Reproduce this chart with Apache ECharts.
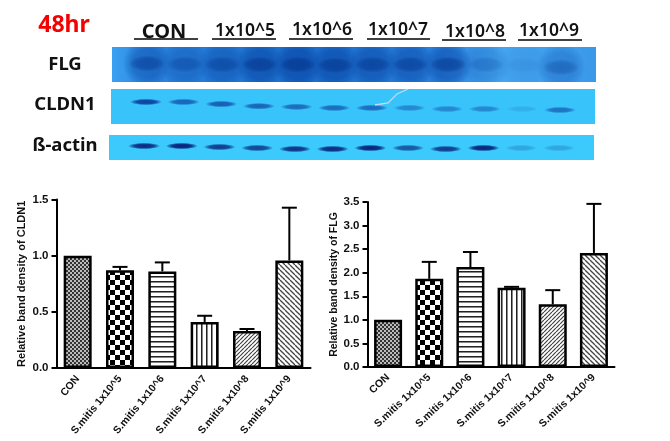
<!DOCTYPE html>
<html><head><meta charset="utf-8">
<style>html,body{margin:0;padding:0;background:#fff;overflow:hidden}#c{width:670px;height:441px;filter:blur(0.4px)}</style>
<script src="https://cdn.jsdelivr.net/npm/echarts@6/dist/echarts.min.js"></script>
</head><body><div id="c"></div>
<script>
// ---------- data ----------
const categories = ['CON','S.mitis 1x10^5','S.mitis 1x10^6','S.mitis 1x10^7','S.mitis 1x10^8','S.mitis 1x10^9'];
const cldn1Mean = [1.0,0.87,0.86,0.41,0.33,0.957];
const cldn1Err  = [0,0.03,0.08,0.055,0.017,0.47];
const flgMean   = [1.0,1.87,2.12,1.68,1.33,2.42];
const flgErr    = [0,0.36,0.32,0.02,0.30,1.04];
const doseGroups = ['CON','1x10^5','1x10^6','1x10^7','1x10^8','1x10^9'];
const blotNames = ['FLG','CLDN1','ß-actin'];
const lanes = [1,2,3,4,5,6,7,8,9,10,11,12];
const flgDensity   = [.65,.45,.6,.85,.95,.85,.75,.7,.75,.28,.1,.4];
const flgBandPos   = [47,49,50,50,50,52,50,50,50,50,52,58];
const cldn1Density = [.95,.7,.75,.7,.65,.65,.65,.45,.45,.45,.15,.6];
const cldn1BandPos = [37,37,43,49,51,54,54,54,57,57,57,60];
const actinDensity = [.95,1,.85,.8,.9,.95,1,.7,.85,1,.22,.22];
const actinBandPos = [44,44,48,52,56,56,52,52,56,52,52,52];

// ---------- layout ----------
const headerX = [164,245,322,398,475,549];
const headerY = [32,31,30,30,32,31];
const ruleX = [[134,198],[212,276],[289,353],[367,430],[442,506],[518,582]];
const ruleY = [39,39,39,39,40,40];
const blotLabelX = 65, blotLabelY = [65,105,146];

function pat(size, draw){
  const c=document.createElement('canvas');c.width=c.height=size;
  const g=c.getContext('2d');g.fillStyle='#fff';g.fillRect(0,0,size,size);g.fillStyle='#000';g.strokeStyle='#000';
  draw(g,size);return {image:c,repeat:'repeat'};
}
const patterns=[
  pat(4,(g)=>{g.fillStyle='#333';g.fillRect(0,0,2,2);g.fillRect(2,2,2,2);g.fillStyle='#bbb';g.fillRect(2,0,2,2);g.fillRect(0,2,2,2);}),
  pat(10,(g)=>{g.fillRect(0,0,5,5);g.fillRect(5,5,5,5);}),
  pat(5,(g)=>{g.fillStyle='#222';g.fillRect(0,1,5,1);g.fillStyle='#888';g.fillRect(0,2,5,1);}),
  pat(5,(g)=>{g.fillStyle='#222';g.fillRect(1,0,1,5);g.fillStyle='#888';g.fillRect(2,0,1,5);}),
  pat(4,(g)=>{g.lineWidth=1.2;g.strokeStyle='#444';for(let i=-4;i<=8;i+=4){g.beginPath();g.moveTo(i,4);g.lineTo(i+4,0);g.stroke();}}),
  pat(5,(g)=>{g.lineWidth=1.3;g.strokeStyle='#444';for(let i=-5;i<=10;i+=5){g.beginPath();g.moveTo(i,0);g.lineTo(i+5,5);g.stroke();}})
];

function errorItem(params,api){
  const x=api.value(0), top=api.value(1)+api.value(2);
  if(api.value(2)<=0) return null;
  const a=api.coord([x,api.value(1)]), b=api.coord([x,top]);
  const s={stroke:'#000',lineWidth:2,fill:null};
  return {type:'group',children:[
    {type:'line',shape:{x1:a[0],y1:a[1],x2:b[0],y2:b[1]},style:s},
    {type:'line',shape:{x1:b[0]-7.5,y1:b[1],x2:b[0]+7.5,y2:b[1]},style:s}
  ]};
}
function blotItem(rx,ry,rgb,scale){
  return function(params,api){
    const p=api.coord([api.value(0),api.value(1)]);
    const d=Math.min(1,api.value(2)*scale);
    const col=a=>'rgba('+rgb+','+a+')';
    return {type:'circle',x:p[0],y:p[1],scaleX:rx/ry,shape:{cx:0,cy:0,r:ry},
      style:{fill:new echarts.graphic.RadialGradient(.5,.5,.5,[
        {offset:0,color:col(d)},{offset:.6,color:col(d*.9)},{offset:.85,color:col(d*.4)},{offset:1,color:col(0)}])}};
  };
}
function blotSeries(i,dens,pos,rx,ry,rgb,scale){
  return {type:'custom',xAxisIndex:i,yAxisIndex:i,clip:true,silent:true,
    renderItem:blotItem(rx,ry,rgb,scale),
    data:lanes.map((l,k)=>[l,pos[k],dens[k]])};
}
function blotX(i){return {gridIndex:i,type:'value',min:0.07,max:12.93,show:false};}
function blotY(i){return {gridIndex:i,type:'value',min:0,max:100,inverse:true,show:false};}
function chartAxes(i,max,interval,name,gap,nameSize,rot){
  return {
    x:{gridIndex:i,type:'category',data:categories,boundaryGap:true,
      axisLine:{lineStyle:{color:'#000',width:2}},
      axisTick:{alignWithLabel:true,length:5,lineStyle:{color:'#000',width:2}},
      axisLabel:{rotate:rot,interval:0,color:'#111',fontFamily:'Liberation Sans',fontWeight:'bold',fontSize:10.5,margin:9}},
    y:{gridIndex:i,type:'value',min:0,max:max,interval:interval,name:name,nameLocation:'middle',nameGap:gap,
      nameTextStyle:{color:'#111',fontFamily:'Liberation Sans',fontWeight:'bold',fontSize:nameSize},
      splitLine:{show:false},
      axisLine:{show:true,lineStyle:{color:'#000',width:2}},
      axisTick:{show:true,length:5,lineStyle:{color:'#000',width:2}},
      axisLabel:{color:'#111',fontFamily:'Liberation Sans',fontWeight:'bold',fontSize:11.5,margin:8,formatter:v=>v.toFixed(1)}}
  };
}
function barSeries(i,vals){
  return {type:'bar',xAxisIndex:i,yAxisIndex:i,barWidth:28,silent:true,
    data:vals.map((v,k)=>({value:v,itemStyle:{color:patterns[k],borderColor:'#000',borderWidth:2.5}}))};
}
function errSeries(i,vals,errs){
  return {type:'custom',xAxisIndex:i,yAxisIndex:i,silent:true,z:1,renderItem:errorItem,clip:false,
    data:vals.map((v,k)=>[k,v,errs[k]])};
}

const a1=chartAxes(3,1.5,0.5,'Relative band density of CLDN1',29,11,50);
const a2=chartAxes(4,3.5,0.5,'Relative band density of FLG',27,10.5,43);

const elements=[
  {type:'text',style:{text:'48hr',x:64,y:25,align:'center',verticalAlign:'middle',fill:'#f40000',font:'bold 23px "Noto Sans"'}}
];
doseGroups.forEach((t,i)=>{
  elements.push({type:'text',style:{text:t,x:headerX[i],y:headerY[i],align:'center',verticalAlign:'middle',fill:'#111',
    font:(i===0?'bold 20px':'600 17.5px')+' "Noto Sans"'}});
  elements.push({type:'line',shape:{x1:ruleX[i][0],y1:ruleY[i],x2:ruleX[i][1],y2:ruleY[i]},style:{stroke:'#000',lineWidth:1.5}});
});
blotNames.forEach((t,i)=>{
  elements.push({type:'text',style:{text:t,x:blotLabelX,y:blotLabelY[i],align:'center',verticalAlign:'middle',fill:'#111',font:'bold 18.5px "Noto Sans"'}});
});
elements.push({type:'polyline',z:50,shape:{points:[[375,105],[388,103],[397,94],[408,89]]},style:{stroke:'rgba(225,225,245,0.8)',lineWidth:1.3,fill:null}});

const lg=(stops)=>new echarts.graphic.LinearGradient(0,0,1,0,stops);
const option={
  animation:false,
  backgroundColor:'#fff',
  graphic:{elements:elements},
  grid:[
    {left:112,top:47,width:484,height:35,show:true,borderWidth:0,
     backgroundColor:lg([{offset:0,color:'#3aa0f0'},{offset:.08,color:'#2a84de'},{offset:.4,color:'#1c6ccb'},{offset:.68,color:'#2a80dc'},{offset:.8,color:'#45a6f0'},{offset:1,color:'#3a98ea'}])},
    {left:111,top:89,width:484,height:35,show:true,borderWidth:0,backgroundColor:'#38c4fa'},
    {left:109,top:135,width:485,height:25,show:true,borderWidth:0,backgroundColor:'#3ccafc'},
    {left:56.5,top:199.5,width:254,height:168.5},
    {left:367.5,top:202,width:247,height:165}
  ],
  xAxis:[blotX(0),blotX(1),blotX(2),a1.x,a2.x],
  yAxis:[blotY(0),blotY(1),blotY(2),a1.y,a2.y],
  series:[
    blotSeries(0,flgDensity,flgBandPos,24,24,'10,74,168',.75),
    blotSeries(0,flgDensity,flgBandPos,18,8,'6,58,146',.8),
    blotSeries(1,cldn1Density,cldn1BandPos,16,3.2,'11,58,156',1),
    blotSeries(2,actinDensity,actinBandPos,16,3.2,'8,35,124',1),
    errSeries(3,cldn1Mean,cldn1Err),
    barSeries(3,cldn1Mean),
    errSeries(4,flgMean,flgErr),
    barSeries(4,flgMean)
  ]
};
echarts.init(document.getElementById('c'),null,{renderer:'canvas'}).setOption(option);
</script></body></html>
